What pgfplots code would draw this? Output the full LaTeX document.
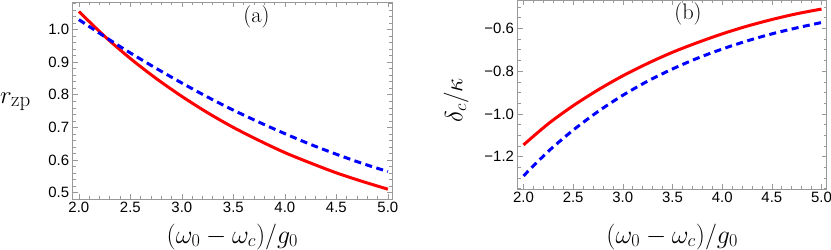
\RequirePackage{fix-cm}
\documentclass[border=0pt]{standalone}
\usepackage{fontspec}
\usepackage{pgfplots}
\pgfplotsset{compat=1.18}
\newfontfamily\tickfont{Liberation Sans}
\definecolor{framegray}{gray}{0.6}
\definecolor{mred}{rgb}{1,0,0}
\definecolor{mblue}{rgb}{0,0,1}

\pgfplotsset{
  mstyle/.style={
    scale only axis,
    axis line style={framegray, line width=0.8bp},
    tick style={framegray, line width=0.6bp},
    tick align=inside,
    xtick pos=both, ytick pos=both,
    major tick length=5bp, minor tick length=3bp,
    ticklabel style={font=\tickfont\fontsize{15}{17}\selectfont, text=black},
    xtick={2,2.5,3,3.5,4,4.5,5},
    xticklabels={2.0,2.5,3.0,3.5,4.0,4.5,5.0},
    minor x tick num=4,
    xlabel={$(\omega_0-\omega_c)/g_0$},
    xlabel style={font=\fontsize{26}{30}\selectfont, anchor=base, inner sep=0pt},
    ylabel style={font=\fontsize{25}{29}\selectfont, inner sep=0pt},
    clip=true,
  },
  redline/.style={mred, line width=3bp, smooth},
  blueline/.style={mblue, line width=3bp, smooth, dash pattern=on 7bp off 4.5bp},
}

\begin{document}
\begin{tikzpicture}
% ---------- panel (a) ----------
\begin{axis}[mstyle,
  at={(72.7bp,51bp)}, anchor=south west,
  width=319.3bp, height=197bp,
  xmin=1.94, xmax=5.04, ymin=0.481, ymax=1.084,
  ytick={0.5,0.6,0.7,0.8,0.9,1.0},
  yticklabels={0.5,0.6,0.7,0.8,0.9,1.0},
  minor ytick={0.52,0.54,0.56,0.58,0.62,0.64,0.66,0.68,0.72,0.74,0.76,0.78,0.82,0.84,0.86,0.88,0.92,0.94,0.96,0.98,1.02,1.04,1.06,1.08},
  xlabel style={at={(axis description cs:0.5,-0.2234)}},
  ylabel={$r_{\hbox{\fontsize{21}{22}\selectfont zp}}$},
  ylabel style={rotate=-90, at={(axis description cs:-0.2277,0.487)}, anchor=base west},
]
\addplot[redline] coordinates {
(2.0,1.055) (2.25,0.979) (2.5,0.911) (2.75,0.850) (3.0,0.795) (3.25,0.745)
(3.5,0.700) (3.75,0.660) (4.0,0.623) (4.25,0.591) (4.5,0.561) (4.75,0.535) (5.0,0.511)};
\addplot[blueline] coordinates {
(2.0,1.030) (2.25,0.978) (2.5,0.928) (2.75,0.881) (3.0,0.836) (3.25,0.793)
(3.5,0.753) (3.75,0.716) (4.0,0.681) (4.25,0.648) (4.5,0.618) (4.75,0.590) (5.0,0.565)};
\node at (axis cs:3.725,1.0376) {\fontsize{22.5}{26}\selectfont (a)};
\end{axis}
% ---------- panel (b) ----------
\begin{axis}[mstyle,
  at={(517.5bp,61bp)}, anchor=south west,
  width=309.3bp, height=188.5bp,
  xmin=1.94, xmax=5.053, ymin=-1.351, ymax=-0.47,
  ytick={-1.2,-1.0,-0.8,-0.6},
  yticklabels={−1.2,−1.0,−0.8,−0.6},
  minor ytick={-1.35,-1.3,-1.25,-1.15,-1.1,-1.05,-0.95,-0.9,-0.85,-0.75,-0.7,-0.65,-0.55,-0.5},
  xlabel style={at={(axis description cs:0.5,-0.2865)}},
  ylabel={$\delta_c/\kappa$},
  ylabel style={at={(axis description cs:-0.1982,0.472)}, anchor=center},
]
\addplot[redline] coordinates {
(2.0,-1.145) (2.25,-1.046) (2.5,-0.962) (2.75,-0.888) (3.0,-0.822) (3.25,-0.764)
(3.5,-0.712) (3.75,-0.667) (4.0,-0.626) (4.25,-0.590) (4.5,-0.559) (4.75,-0.532) (5.0,-0.510)};
\addplot[blueline] coordinates {
(2.0,-1.290) (2.25,-1.175) (2.5,-1.076) (2.75,-0.989) (3.0,-0.913) (3.25,-0.847)
(3.5,-0.790) (3.75,-0.740) (4.0,-0.697) (4.25,-0.659) (4.5,-0.626) (4.75,-0.598) (5.0,-0.573)};
\node at (axis cs:3.656,-0.531) {\fontsize{22.5}{26}\selectfont (b)};
\end{axis}
\pgfresetboundingbox
\path[use as bounding box] (0,0) rectangle (831bp,250bp);
\end{tikzpicture}
\end{document}
